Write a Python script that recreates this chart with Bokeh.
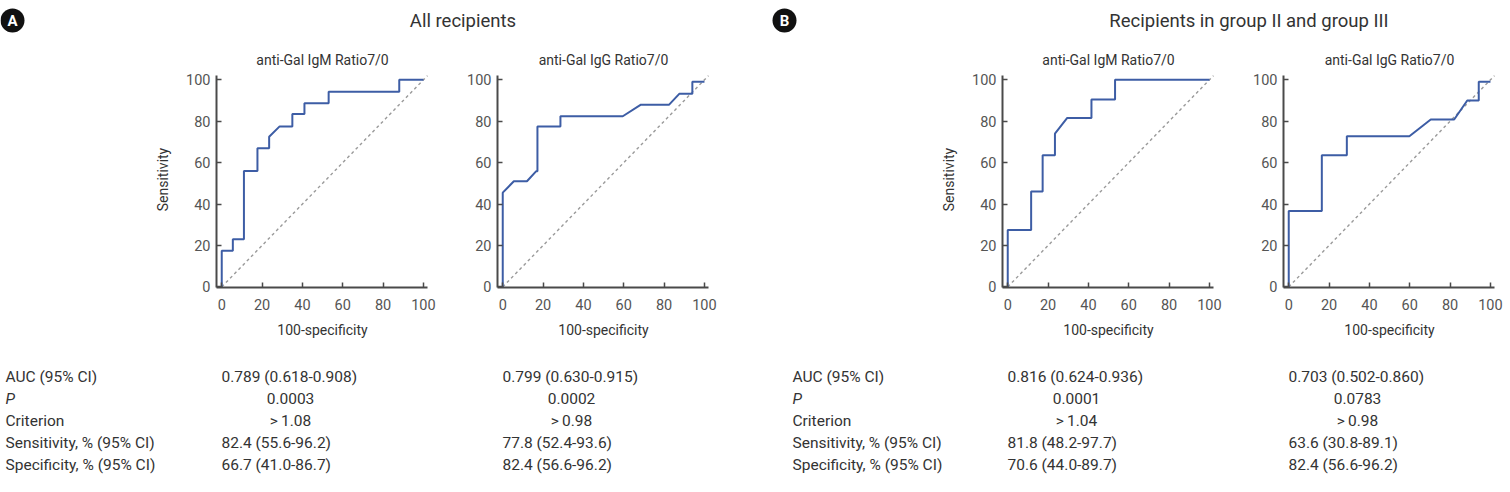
from bokeh.plotting import figure
from bokeh.layouts import column, row
from bokeh.models import Range1d, Spacer, FixedTicker
from bokeh.core.properties import value
from bokeh.embed import file_html
from bokeh.resources import INLINE

# ---------------- data ----------------
group_titles = ["All recipients", "Recipients in group II and group III"]
group_tags = ["A", "B"]
panel_titles = ["anti-Gal IgM Ratio7/0", "anti-Gal IgG Ratio7/0",
                "anti-Gal IgM Ratio7/0", "anti-Gal IgG Ratio7/0"]

# ROC curves: 100-specificity (x) and sensitivity (y), in %
a_igm_x = [0, 0, 5.5, 5.5, 11, 11, 17.7, 17.7, 23.5, 23.5, 28.7, 35, 35, 41, 41, 53, 53, 88, 88, 100]
a_igm_y = [0, 17.5, 17.5, 23, 23, 56, 56, 67, 67, 72.5, 77.5, 77.5, 83.5, 83.5, 88.7, 88.7, 94.2, 94.2, 100, 100]

a_igg_x = [0, 0, 5.5, 12, 16.5, 17.2, 17.2, 28.6, 28.6, 59.5, 68.5, 82.5, 87.5, 94, 94, 100]
a_igg_y = [0, 45.5, 51, 51, 55.8, 55.8, 77.5, 77.5, 82.4, 82.4, 88, 88, 93.2, 93.2, 99, 99]

b_igm_x = [0, 0, 11.6, 11.6, 17.3, 17.3, 23.4, 23.4, 29.5, 41.5, 41.5, 53.2, 53.2, 100]
b_igm_y = [0, 27.5, 27.5, 46, 46, 63.6, 63.6, 74, 81.6, 81.6, 90.5, 90.5, 100, 100]

b_igg_x = [0, 0, 16.4, 16.4, 28.8, 28.8, 59.8, 70.4, 82, 88.5, 94.2, 94.2, 100]
b_igg_y = [0, 36.6, 36.6, 63.6, 63.6, 72.7, 72.7, 80.8, 80.8, 90, 90, 99, 99]

chance = [0, 102]
axis_ticks = [0, 20, 40, 60, 80, 100]

row_labels = ["AUC (95% CI)", "P", "Criterion",
              "Sensitivity, % (95% CI)", "Specificity, % (95% CI)"]
a_igm_stats = ["0.789 (0.618-0.908)", "0.0003", ">\u20091.08", "82.4 (55.6-96.2)", "66.7 (41.0-86.7)"]
a_igg_stats = ["0.799 (0.630-0.915)", "0.0002", ">\u20090.98", "77.8 (52.4-93.6)", "82.4 (56.6-96.2)"]
b_igm_stats = ["0.816 (0.624-0.936)", "0.0001", ">\u20091.04", "81.8 (48.2-97.7)", "70.6 (44.0-89.7)"]
b_igg_stats = ["0.703 (0.502-0.860)", "0.0783", ">\u20090.98", "63.6 (30.8-89.1)", "82.4 (56.6-96.2)"]

# ---------------- style / layout ----------------
FONT = "Roboto"
W, TOP_H, TABLE_H = 1510, 70, 145
FRAME_W, FRAME_H = 212, 216
BORDER_R = 10
CURVE = "#3d5da5"
AXIS = "#4a4a4a"
TEXT = "#333333"
TICK_TXT = "#555555"

# absolute left edge of each frame and the left border of each panel
frame_left = [216, 497, 1002, 1283]
border_left = [70, 59, 70, 59]
X0_OFFSET = 5           # pixel offset of x=0 inside the frame


def canvas(height):
    p = figure(width=W, height=height, x_range=Range1d(0, W), y_range=Range1d(height, 0),
               output_backend="svg", toolbar_location=None, tools="",
               min_border=0, outline_line_color=None)
    p.axis.visible = False
    p.grid.visible = False
    return p


def roc_panel(xs, ys, ylabel, left):
    p = figure(frame_width=FRAME_W, frame_height=FRAME_H,
               min_border_left=left, min_border_right=BORDER_R,
               min_border_top=1, min_border_bottom=60,
               x_range=Range1d(-2.6, 102.5), y_range=Range1d(-0.3, 104),
               output_backend="svg", toolbar_location=None, tools="",
               outline_line_color=None)
    p.grid.visible = False
    p.line(chance, chance, line_color="#9a9a9a", line_width=1.4, line_dash="3 3")
    p.line(xs, ys, line_color=CURVE, line_width=2)
    for ax in (p.xaxis[0], p.yaxis[0]):
        ax.ticker = FixedTicker(ticks=axis_ticks)
        ax.axis_line_color = AXIS
        ax.axis_line_width = 2
        ax.major_tick_line_color = AXIS
        ax.major_tick_line_width = 1.5
        ax.major_tick_in = 5
        ax.major_tick_out = 0
        ax.minor_tick_line_color = None
        ax.major_label_text_font = FONT
        ax.major_label_text_font_size = "14.5px"
        ax.major_label_text_color = TICK_TXT
        ax.axis_label_text_font = FONT
        ax.axis_label_text_font_size = "14px"
        ax.axis_label_text_font_style = "normal"
        ax.axis_label_text_color = TEXT
    p.xaxis.bounds = (-2.6, 102)
    p.yaxis.bounds = (-0.3, 102)
    p.xaxis.axis_label = "100-specificity"
    p.xaxis.major_label_standoff = 11
    p.xaxis.axis_label_standoff = 9
    p.yaxis.major_label_standoff = 6
    if ylabel:
        p.yaxis.axis_label = ylabel
        p.yaxis.axis_label_standoff = 12
    return p


# ---------------- header ----------------
top = canvas(TOP_H)
tag_x = [12, 784]
top.scatter(tag_x, [20, 20], marker="circle", size=24, fill_color="#111111", line_color=None)
top.text(tag_x, [20.5, 20.5], text=group_tags, text_color="white", text_font=value(FONT),
         text_font_style="bold", text_font_size="15px", text_align="center", text_baseline="middle")
group_cx = [(frame_left[0] + frame_left[1] + FRAME_W) / 2, (frame_left[2] + frame_left[3] + FRAME_W) / 2]
top.text(group_cx, [20, 20], text=group_titles, text_color=TEXT, text_font=value(FONT),
         text_font_size="18.5px", text_align="center", text_baseline="middle")
top.text([fl + FRAME_W / 2 for fl in frame_left], [59] * 4, text=panel_titles, text_color=TEXT,
         text_font=value(FONT), text_font_size="14px", text_align="center", text_baseline="middle")

# ---------------- ROC panels ----------------
curves = [(a_igm_x, a_igm_y), (a_igg_x, a_igg_y), (b_igm_x, b_igm_y), (b_igg_x, b_igg_y)]
ylabels = ["Sensitivity", None, "Sensitivity", None]
figs = [roc_panel(xs, ys, lab, bl) for (xs, ys), lab, bl in zip(curves, ylabels, border_left)]

# spacers so every frame starts at its absolute position
items, cursor = [], 0
for fig, fl, bl in zip(figs, frame_left, border_left):
    gap = fl - bl - cursor
    if gap > 0:
        items.append(Spacer(width=gap, height=10))
    items.append(fig)
    cursor = fl + FRAME_W + BORDER_R
if W - cursor > 0:
    items.append(Spacer(width=W - cursor, height=10))
panels = row(*items, spacing=0)

# ---------------- statistics table ----------------
TABLE_FONT = "15.5px"
table = canvas(TABLE_H)
row_y = [29, 51, 73, 95, 117]
for lx in (5, 792):
    plain = [i for i in range(5) if i != 1]
    table.text([lx] * 4, [row_y[i] for i in plain], text=[row_labels[i] for i in plain],
               text_color=TEXT, text_font=value(FONT), text_font_size=TABLE_FONT,
               text_baseline="middle", text_align="left")
    table.text([lx], [row_y[1]], text=[row_labels[1]], text_color=TEXT, text_font=value(FONT),
               text_font_size=TABLE_FONT, text_font_style="italic", text_baseline="middle", text_align="left")

for fl, stats in zip(frame_left, [a_igm_stats, a_igg_stats, b_igm_stats, b_igg_stats]):
    lefts = [0, 3, 4]
    mids = [1, 2]
    table.text([fl + X0_OFFSET] * 3, [row_y[i] for i in lefts], text=[stats[i] for i in lefts],
               text_color=TEXT, text_font=value(FONT), text_font_size=TABLE_FONT,
               text_baseline="middle", text_align="left")
    table.text([fl + X0_OFFSET + 69] * 2, [row_y[i] for i in mids], text=[stats[i] for i in mids],
               text_color=TEXT, text_font=value(FONT), text_font_size=TABLE_FONT,
               text_baseline="middle", text_align="center")

layout = column(top, panels, table, spacing=0)
open("out.html", "w").write(file_html(layout, INLINE))
